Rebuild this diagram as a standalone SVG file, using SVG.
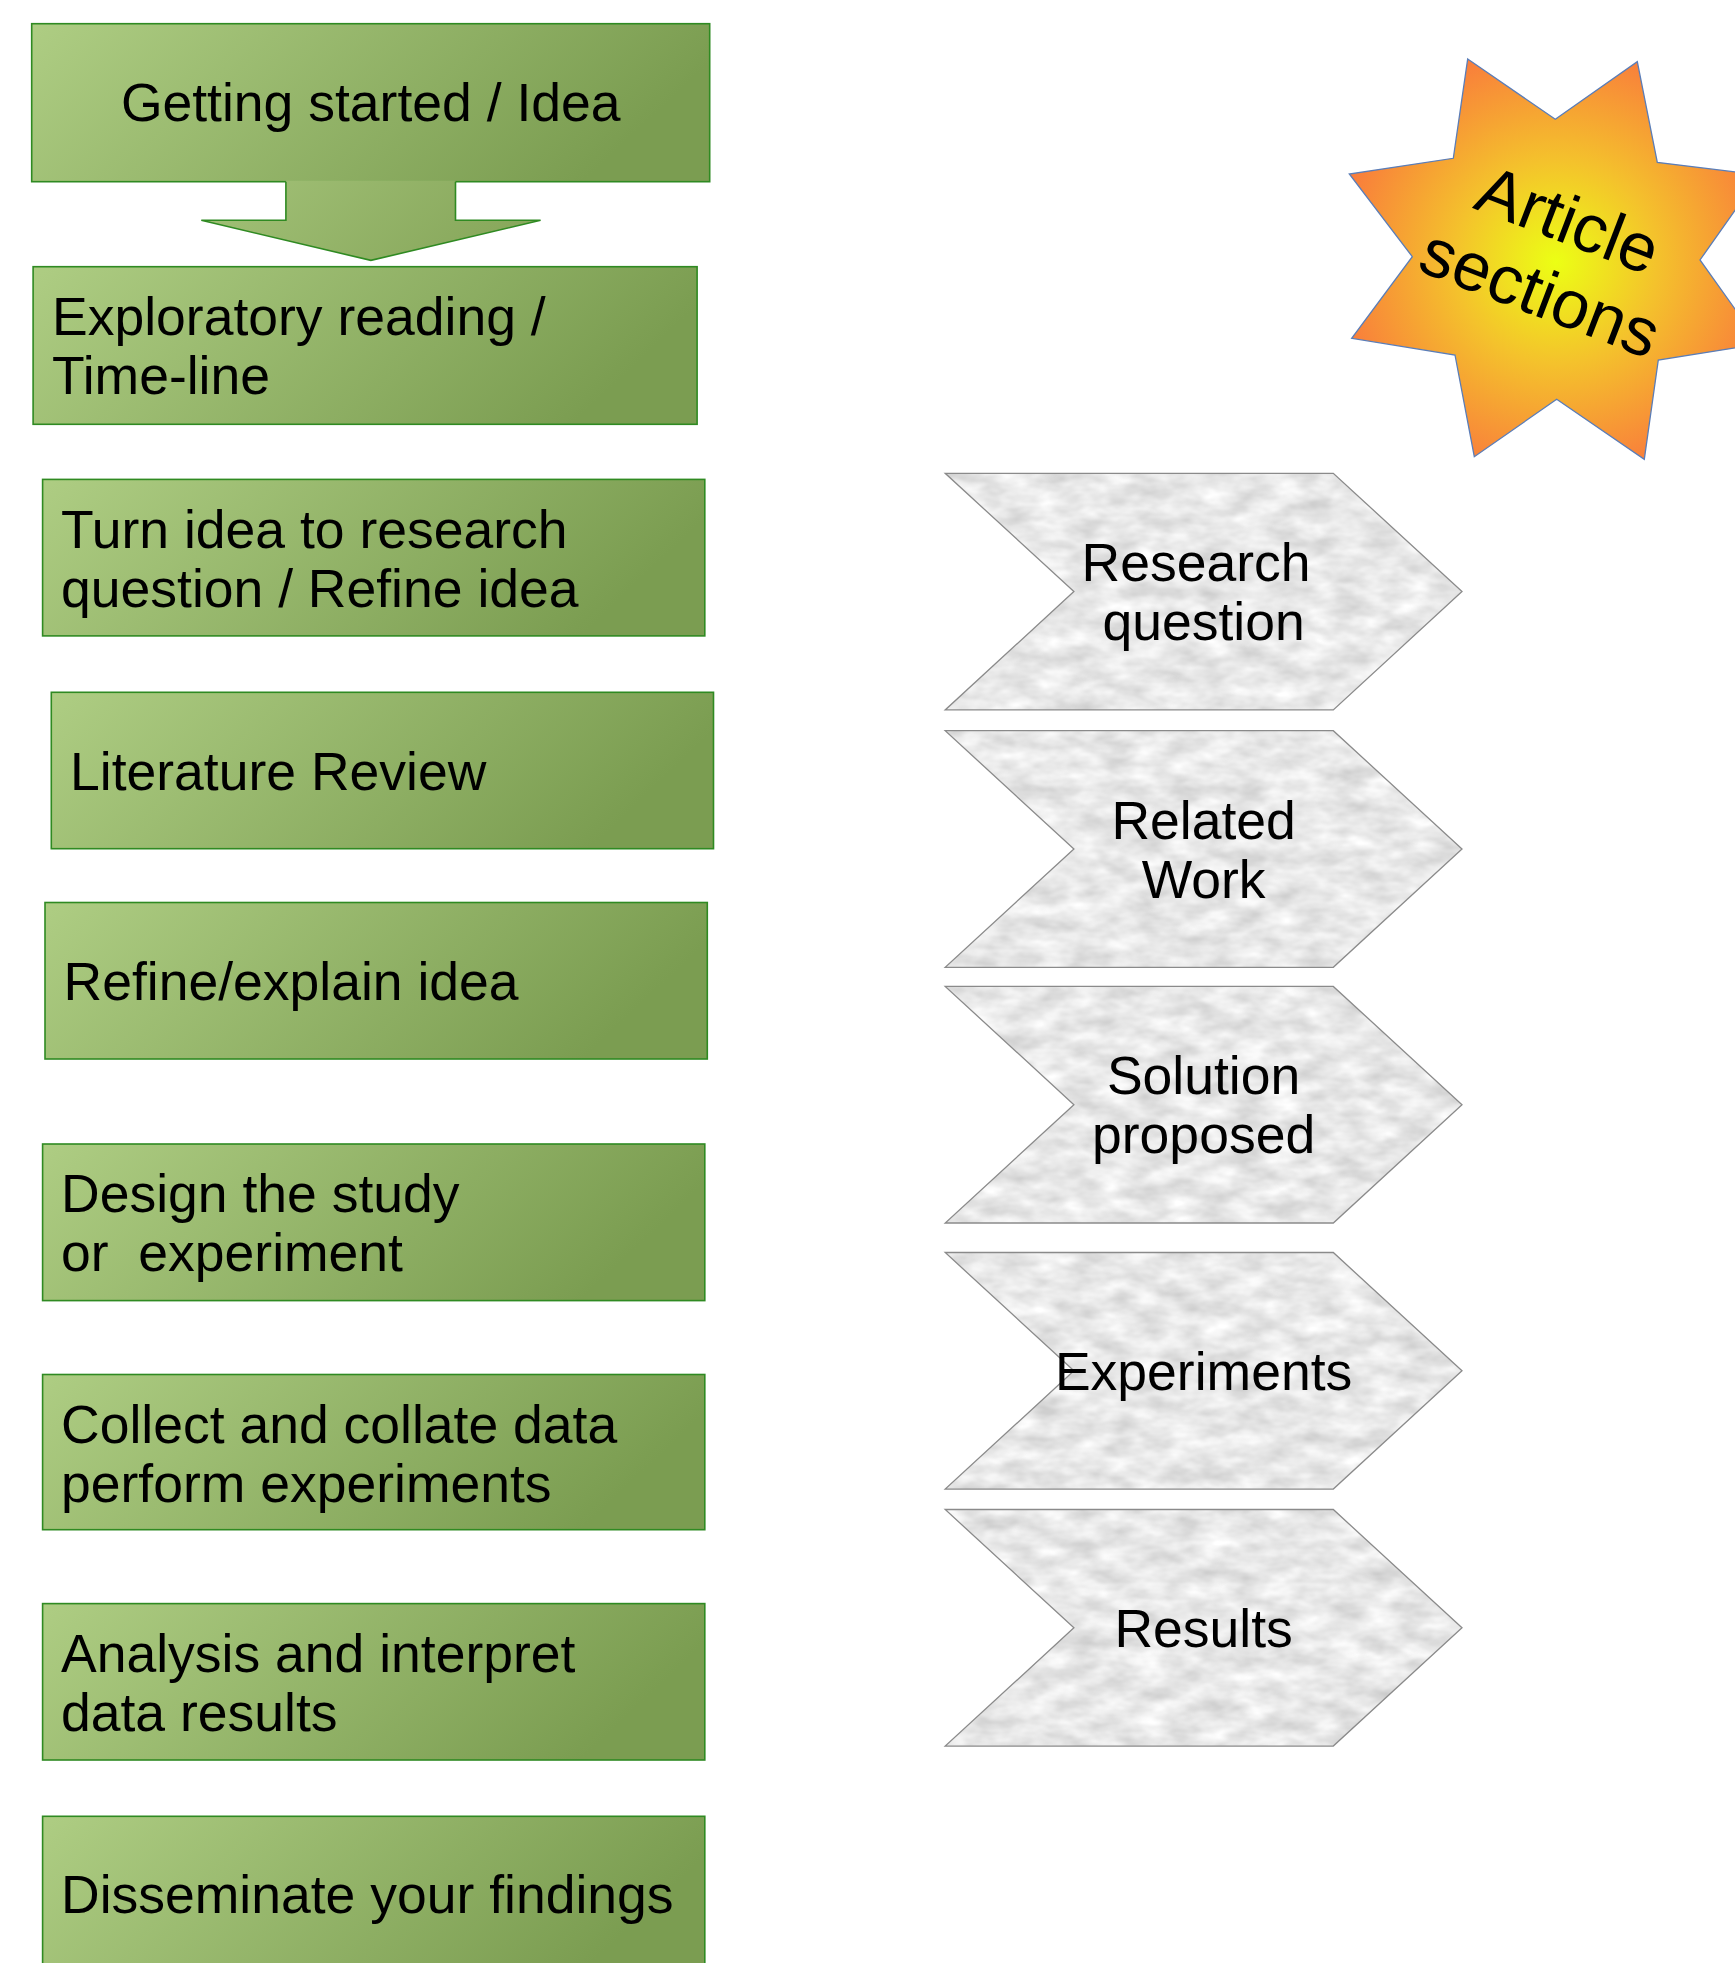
<svg xmlns="http://www.w3.org/2000/svg" width="1735" height="1963" viewBox="0 0 1735 1963">
  <defs>
    <style>
      .step rect { fill: url(#green); stroke: #2f8a22; stroke-width: 1.6; }
      .label { font-family: "Liberation Sans", Arial, sans-serif; font-size: 53.5px; fill: #000; }
      .mid { text-anchor: middle; }
      .face { fill: #fff; stroke: none; filter: url(#marble); }
      .edge { fill: none; stroke: #8a8a8a; stroke-width: 1.3; stroke-linejoin: miter; }
      .flow-fill { fill: url(#greenMid); stroke: none; }
      .flow-edge { fill: none; stroke: #2f8a22; stroke-width: 1.6; }
      .burst { fill: url(#burstFill); stroke: #5a7db8; stroke-width: 1.3; }
      .burst-text { font-size: 68px; }
    </style>
    <linearGradient id="green" x1="0" y1="0" x2="1" y2="0.25">
      <stop offset="0" stop-color="#aecd83"/>
      <stop offset="1" stop-color="#7b9d51"/>
    </linearGradient>
    <linearGradient id="greenMid" x1="0" y1="0" x2="1" y2="0.25">
      <stop offset="0" stop-color="#a3c278"/>
      <stop offset="1" stop-color="#88a85c"/>
    </linearGradient>
    <radialGradient id="burstFill" gradientUnits="userSpaceOnUse" cx="1556" cy="262" r="225">
      <stop offset="0" stop-color="#ecff14"/>
      <stop offset="0.45" stop-color="#f4c22c"/>
      <stop offset="1" stop-color="#f97a3c"/>
    </radialGradient>
    <!-- light grey marble texture for the section chevrons -->
    <filter id="marble" x="0" y="0" width="1" height="1" color-interpolation-filters="sRGB">
      <feTurbulence type="fractalNoise" baseFrequency="0.03 0.06" numOctaves="3" seed="7" result="noise"/>
      <feColorMatrix in="noise" type="matrix" values="0.26 0 0 0 0.78  0.26 0 0 0 0.78  0.26 0 0 0 0.78  0 0 0 0 1" result="tone"/>
      <feComposite in="tone" in2="SourceGraphic" operator="in"/>
    </filter>
  </defs>

  <!-- research process steps -->
  <g id="step-idea" class="step">
    <rect x="31.7" y="23.7" width="678" height="158"/>
    <text class="label mid" x="370.7" y="121">Getting started / Idea</text>
  </g>
  <g id="step-reading" class="step">
    <rect x="33.1" y="266.7" width="664" height="157.6"/>
    <text class="label" x="52" y="334.5"><tspan x="52">Exploratory reading /</tspan><tspan x="52" dy="59">Time-line</tspan></text>
  </g>
  <g id="step-question" class="step">
    <rect x="42.6" y="479.4" width="662.2" height="156.5"/>
    <text class="label" x="61" y="547.5"><tspan x="61">Turn idea to research</tspan><tspan x="61" dy="59">question / Refine idea</tspan></text>
  </g>
  <g id="step-literature" class="step">
    <rect x="51.3" y="692.3" width="662.2" height="156.4"/>
    <text class="label" x="70" y="789.5">Literature Review</text>
  </g>
  <g id="step-refine" class="step">
    <rect x="45" y="902.5" width="662.3" height="156.5"/>
    <text class="label" x="63.5" y="1000">Refine/explain idea</text>
  </g>
  <g id="step-design" class="step">
    <rect x="42.6" y="1144" width="662.2" height="156.6"/>
    <text class="label" x="61" y="1212" xml:space="preserve" style="white-space:pre"><tspan x="61">Design the study</tspan><tspan x="61" dy="59">or  experiment</tspan></text>
  </g>
  <g id="step-collect" class="step">
    <rect x="42.6" y="1374.5" width="662.2" height="155.2"/>
    <text class="label" x="61" y="1442.5"><tspan x="61">Collect and collate data</tspan><tspan x="61" dy="59">perform experiments</tspan></text>
  </g>
  <g id="step-analysis" class="step">
    <rect x="42.6" y="1603.6" width="662.2" height="156.4"/>
    <text class="label" x="61" y="1671.5"><tspan x="61">Analysis and interpret</tspan><tspan x="61" dy="59">data results</tspan></text>
  </g>
  <g id="step-disseminate" class="step">
    <rect x="42.6" y="1816.3" width="662.2" height="157"/>
    <text class="label" x="61" y="1912.5">Disseminate your findings</text>
  </g>

  <!-- block arrow from the first step down to the second -->
  <g id="connectors">
    <polygon class="flow-fill" points="285.9,180.6 285.9,220.3 201.3,220.3 370.9,260.4 540.6,220.3 455.5,220.3 455.5,180.6"/>
    <polyline class="flow-edge" points="285.9,181.7 285.9,220.3 201.3,220.3 370.9,260.4 540.6,220.3 455.5,220.3 455.5,181.7"/>
  </g>

  <!-- article section chevrons -->
  <g id="sec-research-question">
    <polygon class="face" points="945.2,473.3 1333.3,473.3 1462,591.6 1333.3,709.9 945.2,709.9 1073.9,591.6"/>
    <polygon class="edge" points="945.2,473.3 1333.3,473.3 1462,591.6 1333.3,709.9 945.2,709.9 1073.9,591.6"/>
    <text class="label mid"><tspan x="1196" y="581">Research</tspan><tspan x="1203.6" y="640">question</tspan></text>
  </g>
  <g id="sec-related-work">
    <polygon class="face" points="945.2,730.7 1333.3,730.7 1462,849 1333.3,967.3 945.2,967.3 1073.9,849"/>
    <polygon class="edge" points="945.2,730.7 1333.3,730.7 1462,849 1333.3,967.3 945.2,967.3 1073.9,849"/>
    <text class="label mid"><tspan x="1203.6" y="838.5">Related</tspan><tspan x="1203.6" y="897.5">Work</tspan></text>
  </g>
  <g id="sec-solution">
    <polygon class="face" points="945.2,986.4 1333.3,986.4 1462,1104.7 1333.3,1223 945.2,1223 1073.9,1104.7"/>
    <polygon class="edge" points="945.2,986.4 1333.3,986.4 1462,1104.7 1333.3,1223 945.2,1223 1073.9,1104.7"/>
    <text class="label mid"><tspan x="1203.6" y="1094.2">Solution</tspan><tspan x="1203.6" y="1153.2">proposed</tspan></text>
  </g>
  <g id="sec-experiments">
    <polygon class="face" points="945.2,1252.5 1333.3,1252.5 1462,1370.8 1333.3,1489.1 945.2,1489.1 1073.9,1370.8"/>
    <polygon class="edge" points="945.2,1252.5 1333.3,1252.5 1462,1370.8 1333.3,1489.1 945.2,1489.1 1073.9,1370.8"/>
    <text class="label mid" x="1203.6" y="1389.8">Experiments</text>
  </g>
  <g id="sec-results">
    <polygon class="face" points="945.2,1509.5 1333.3,1509.5 1462,1627.8 1333.3,1746.1 945.2,1746.1 1073.9,1627.8"/>
    <polygon class="edge" points="945.2,1509.5 1333.3,1509.5 1462,1627.8 1333.3,1746.1 945.2,1746.1 1073.9,1627.8"/>
    <text class="label mid" x="1203.6" y="1646.8">Results</text>
  </g>

  <!-- eight-pointed burst badge -->
  <g id="badge">
    <polygon class="burst" points="1467.7,59 1555.3,119.3 1637.3,61.7 1657.3,162.3 1760,175 1700,260 1760,344 1658.3,360 1644.3,459.3 1556.7,399.3 1474.3,456.7 1455,355 1351.7,338.3 1412.3,256.7 1349.3,174 1453.3,158.3"/>
    <g transform="translate(1546,278) rotate(21)">
      <text class="label mid burst-text"><tspan x="0" y="-39">Article</tspan><tspan x="0" y="39">sections</tspan></text>
    </g>
  </g>
</svg>
